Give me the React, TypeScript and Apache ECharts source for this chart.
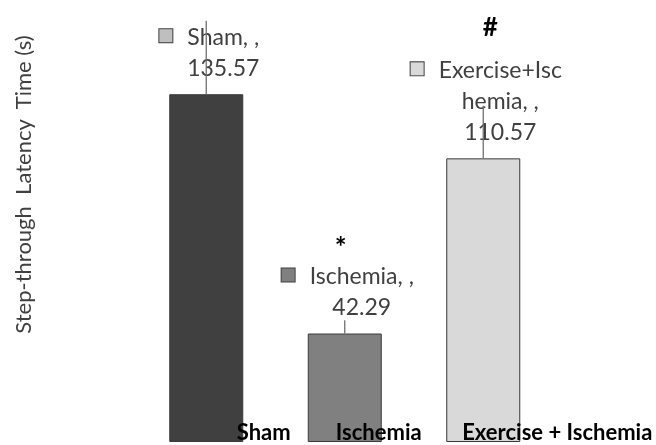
import React, { useEffect, useRef } from 'react';
import * as echarts from 'echarts';

const categories = ['Sham', 'Ischemia', 'Exercise + Ischemia'];
const seriesNames = ['Sham', 'Ischemia', 'Exercise+Ischemia'];
const values = [135.57, 42.29, 110.57];
const errors = [28.6, 5.2, 20.5];
const marks = ['', '*', '#'];
const barColors = ['#404040', '#808080', '#d9d9d9'];
const keyColors = ['#bfbfbf', '#808080', '#d9d9d9'];
const yTitle = 'Step-through  Latency  Time (s)';

const FONT = 'Lato';
const TEXT = '#404040';

function chunk(s: string, n: number): string[] {
  const out: string[] = [];
  for (let i = 0; i < s.length; i += n) out.push(s.slice(i, i + n));
  return out;
}

export default function App() {
  const ref = useRef<HTMLDivElement>(null);
  useEffect(() => {
    if (!ref.current) return;
    const chart = echarts.init(ref.current, null, { renderer: 'svg' });

    const rich: any = {
      sp: { width: 15 },
      pad: { width: 28 },
      t: { fontFamily: FONT, fontSize: 23, color: TEXT, lineHeight: 31 },
      m0: { fontFamily: FONT, fontSize: 28, fontWeight: 'bold', color: '#000', lineHeight: 27, padding: [0, 14, 0, 0] },
      m1: { fontFamily: FONT, fontSize: 26, fontWeight: 'bold', color: '#000', lineHeight: 55, padding: [0, 0, 0, 8] },
    };
    keyColors.forEach((c, i) => {
      rich['k' + i] = { width: 13, height: 13, backgroundColor: c, borderColor: '#404040', borderWidth: 1 };
    });

    const barData = values.map((v, i) => {
      const lines = chunk(seriesNames[i] + ', ,', 12);
      const parts: string[] = [];
      if (marks[i]) parts.push(`{${i === 1 ? 'm0' : 'm1'}|${marks[i]}}`);
      lines.forEach((ln, j) => {
        parts.push(j === 0 ? `{k${i}|}{sp|}{t|${ln}}` : `{pad|}{t|${ln}}`);
      });
      parts.push(`{pad|}{t|${v.toFixed(2)}}`);
      return {
        value: v,
        itemStyle: { color: barColors[i], borderColor: '#3a3a3a', borderWidth: 1 },
        label: {
          show: true,
          position: 'top',
          distance: 12,
          offset: [3, 0],
          formatter: parts.join('\n'),
          rich,
        },
      };
    });

    const xRich: any = {};
    [115, 68, 148].forEach((p, i) => {
      xRich['c' + i] = { fontFamily: FONT, fontSize: 22, fontWeight: 'bold', color: '#000', lineHeight: 17, padding: [0, 0, 0, p] };
    });

    chart.setOption({
      animation: false,
      grid: { left: 137, right: 103.5, top: 0, bottom: 3, containLabel: false },
      xAxis: {
        type: 'category',
        data: categories,
        z: 10,
        axisLine: { show: false },
        axisTick: { show: false },
        axisLabel: {
          interval: 0,
          margin: -19,
          formatter: (v: string, i: number) => `{c${i}|${v}}`,
          rich: xRich,
        },
      },
      yAxis: {
        type: 'value',
        min: 0,
        max: 172.3,
        axisLine: { show: false },
        axisTick: { show: false },
        axisLabel: { show: false },
        splitLine: { show: false },
        name: yTitle,
        nameLocation: 'middle',
        nameRotate: 90,
        nameGap: 104,
        nameTextStyle: { fontFamily: FONT, fontSize: 22, color: TEXT, padding: [0, 0, 0, 73] },
      },
      series: [
        {
          type: 'bar',
          barWidth: 74,
          data: barData,
        },
        {
          type: 'custom',
          data: values.map((v, i) => [i, v, v + errors[i]]),
          encode: { x: 0, y: [1, 2] },
          z: 10,
          renderItem: (params: any, api: any) => {
            const p0 = api.coord([api.value(0), api.value(1)]);
            const p1 = api.coord([api.value(0), api.value(2)]);
            return {
              type: 'line',
              shape: { x1: p0[0], y1: p0[1], x2: p1[0], y2: p1[1] },
              style: { stroke: '#707070', lineWidth: 1.3 },
            };
          },
        },
      ],
    });
    return () => chart.dispose();
  }, []);
  return <div ref={ref} style={{ position: 'fixed', left: 0, top: 0, width: 656, height: 445 }} />;
}
